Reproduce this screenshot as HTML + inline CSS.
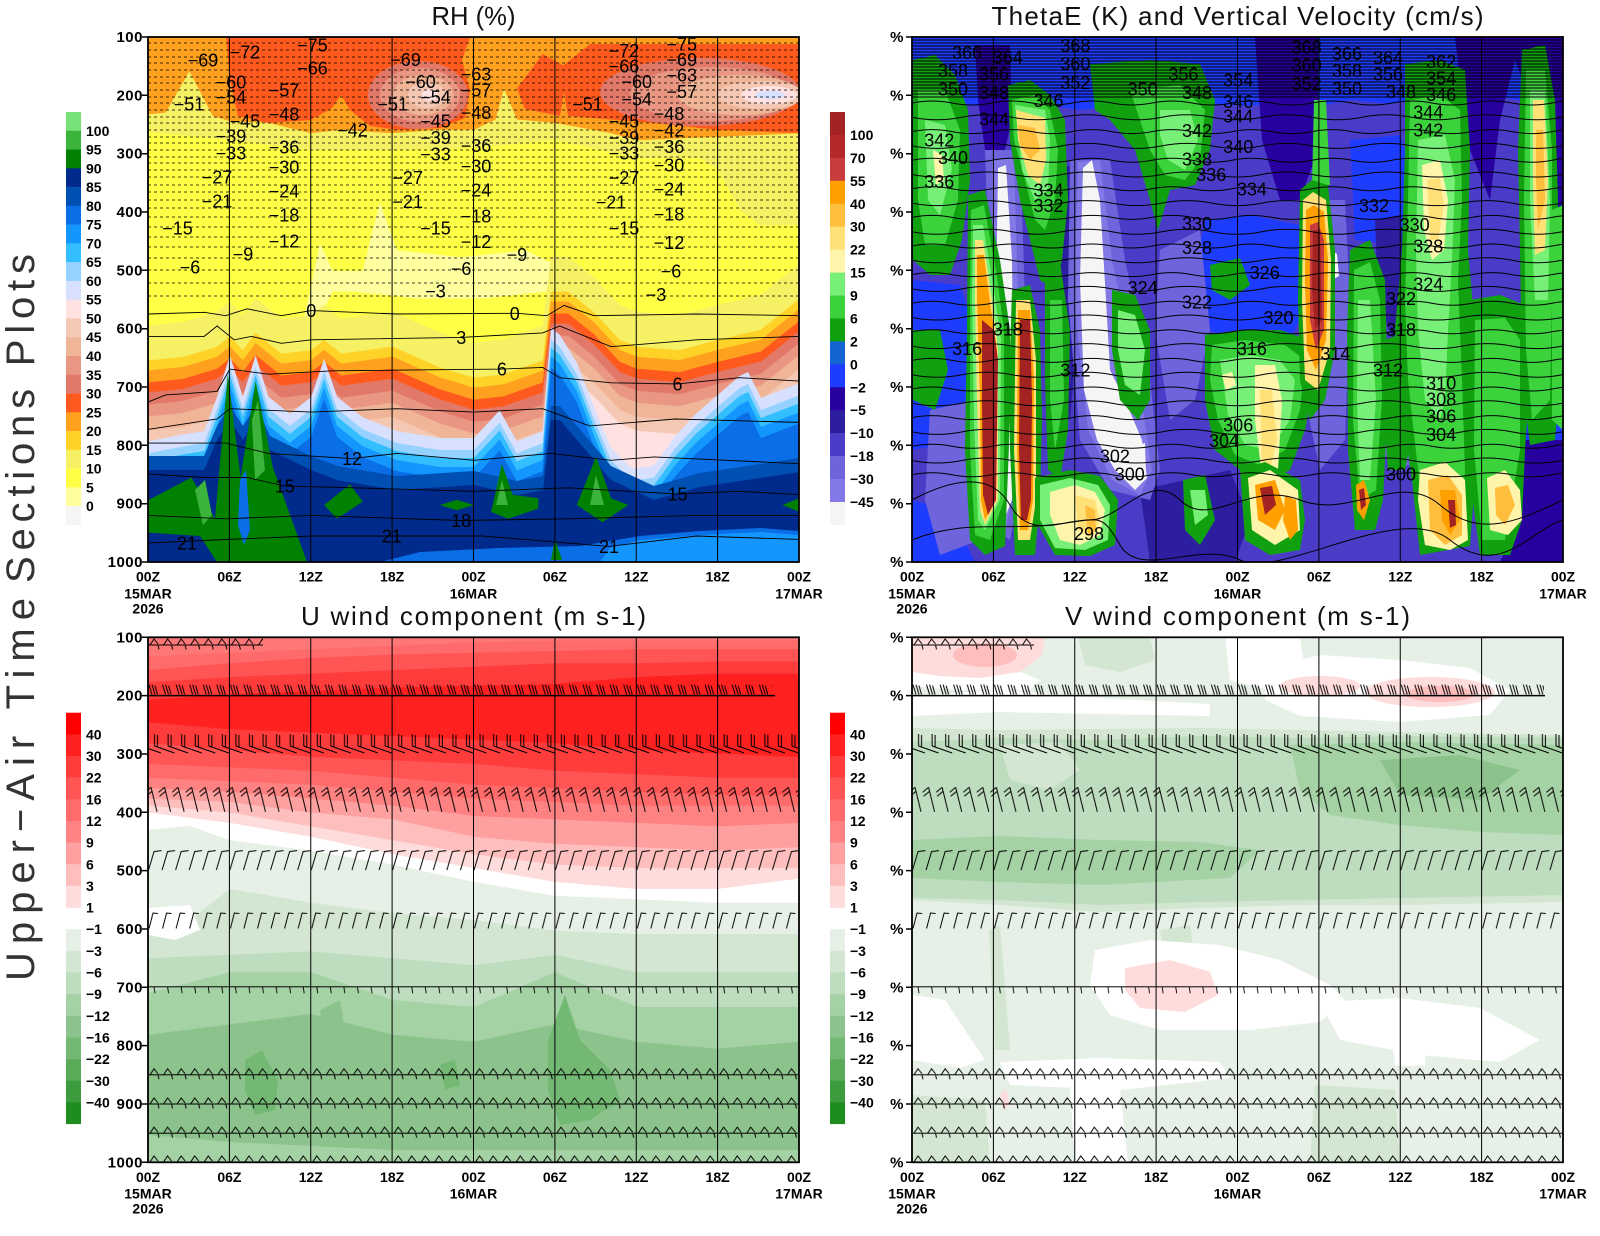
<!DOCTYPE html>
<html><head><meta charset="utf-8">
<style>
html,body{margin:0;padding:0;background:#fff;}
svg{display:block;}
text{font-family:"Liberation Sans",sans-serif;}
.ax{font-weight:bold;font-size:15px;}
.tx{font-weight:bold;font-size:14px;text-anchor:middle;}
.cb{font-weight:bold;font-size:14px;}
.cl{font-size:18px;text-anchor:middle;}
.tt{font-size:26px;}
</style></head><body>
<svg width="1600" height="1236" viewBox="0 0 1600 1236" xmlns="http://www.w3.org/2000/svg">
<defs>
<clipPath id="cA"><rect x="148" y="37" width="651" height="525"/></clipPath>
<clipPath id="cB"><rect x="912" y="37" width="651" height="525"/></clipPath>
<clipPath id="cC"><rect x="148" y="637" width="651" height="526"/></clipPath>
<clipPath id="cD"><rect x="912" y="637" width="651" height="526"/></clipPath>
<path id="mM" d="M148,360.5 L182.8,357 L217.1,346.7 L229.9,336.4 L242.8,350.1 L255.6,332.9 L281.3,353.6 L311.3,350.1 L324.2,339.8 L341.3,353.6 L392.7,346.7 L439.8,367.4 L474,377.7 L504,374.2 L542.6,360.5 L551.1,291.6 L568.3,291.6 L594,312.3 L619.7,339.8 L636.8,346.7 L679.6,350.1 L718.2,339.8 L761,329.5 L800,298.5 L800,700 L147,700 Z"/>
<path id="mB" d="M148,453.4 L182.8,446.5 L204.2,443.1 L217.1,408.7 L229.9,367.4 L242.8,408.7 L255.6,367.4 L268.5,408.7 L289.9,425.9 L311.3,408.7 L324.2,370.8 L337,408.7 L362.7,429.3 L397,443.1 L439.8,450 L474,450 L499.7,422.4 L516.9,453.4 L542.6,443.1 L551.1,339.8 L559.7,346.7 L576.8,374.2 L594,419 L611.1,460.3 L632.5,481 L653.9,477.5 L675.3,448 L696.7,425 L739.6,388 L748.1,384 L761,410 L800,395 L800,700 L147,700 Z"/>
<path id="mN" d="M148,470 L204,470 L217,440 L230,420 L243,440 L256,420 L270,450 L311,470 L337,480 L397,490 L474,485 L517,495 L543,490 L551,420 L560,420 L577,440 L611,480 L654,500 L700,487 L760,478 L800,472 L800,700 L147,700 Z"/>
<path id="wv1" fill="none" stroke="#000" stroke-width="1" d="M0,0 q20,-4 40,0 t40,0 t40,0 t40,0 t40,0 t40,0 t40,0 t40,0 t40,0 t40,0 t40,0 t40,0 t40,0 t40,0 t40,0 t40,0 t40,0"/>
<path id="wv2" fill="none" stroke="#000" stroke-width="1" d="M0,0 q25,5 50,0 t50,0 t50,0 t50,0 t50,0 t50,0 t50,0 t50,0 t50,0 t50,0 t50,0 t50,0 t50,0 t50,0"/>
<pattern id="p200" patternUnits="userSpaceOnUse" x="0" y="-12" width="13.5625" height="12"><path d="M1,1L4,11M4,1L7,11M7,2L9.5,11" stroke="#000" stroke-width="1" fill="none"/></pattern>
<pattern id="p300" patternUnits="userSpaceOnUse" x="0" y="-24" width="13.5625" height="24"><path d="M13,23L-7,16M-7,16L-7,4M-4,17L-4,5M26.56,23L6.56,16M6.56,16L6.56,4M9.56,17L9.56,5" stroke="#000" stroke-width="1" fill="none"/></pattern>
<pattern id="p400" patternUnits="userSpaceOnUse" x="0" y="-28" width="13.5625" height="28"><path d="M9,27.5L3,3M3,3L-3,8M4,7L-2,12M22.56,27.5L16.56,3M16.56,3L10.56,8M17.56,7L11.56,12" stroke="#000" stroke-width="1" fill="none"/></pattern>
<pattern id="p500" patternUnits="userSpaceOnUse" x="0" y="-21" width="13.5625" height="21"><path d="M0.5,20.5L6,2L13.5,1" stroke="#000" stroke-width="1" fill="none"/></pattern>
<pattern id="p600" patternUnits="userSpaceOnUse" x="0" y="-19" width="13.5625" height="19"><path d="M1,18.5L5,3L10,3.5" stroke="#000" stroke-width="1" fill="none"/></pattern>
<pattern id="p700" patternUnits="userSpaceOnUse" x="0" y="-4" width="13.5625" height="12"><path d="M0,3.5H13.6M6,3.5L7,10" stroke="#000" stroke-width="0.9" fill="none"/></pattern>
<pattern id="pz" patternUnits="userSpaceOnUse" x="0" y="-8" width="13.5625" height="13"><path d="M0,8H13.6M2,8L6,2L10,7M10,8L11,12.5" stroke="#000" stroke-width="1" fill="none"/></pattern>
</defs>
<rect width="1600" height="1236" fill="#fff"/>

<!-- ================= PANEL A : RH ================= -->
<g clip-path="url(#cA)">
<rect x="148" y="37" width="651" height="525" fill="#FFFF46"/>
<path d="M148,37 H799 V225 L760,225 L740,210 L718,170 L700,158 L637,158 L555,140 L474,148 L392,150 L311,150 L230,140 L148,132 Z" fill="#F5F064"/>
<path d="M148,37 L800,37 L800,133.3 L718.2,136.7 L636.8,140.2 L611.1,133.3 L555.4,122.9 L516.9,119.5 L504,88.5 L495.5,119.5 L474,129.8 L439.8,129.8 L392.7,133.3 L341.3,129.8 L311.3,133.3 L268.5,122.9 L229.9,121.2 L212.8,116 L189.3,71.3 L165.7,112.6 L148,114.3 Z" fill="#FFA01E"/>
<path d="M226,37 L470,37 L462,60 L470,90 L465,118 L440,128 L400,130 L370,126 L350,110 L341,95 L332,108 L311,120 L268,123 L238,116 L230,80 Z" fill="#FF5A1E"/>
<path d="M517,88.5 L542.6,54 L568,68 L560,116 L525,109 Z" fill="#FF5A1E"/>
<path d="M560,68 L590,44 L800,44 L800,133 L718,130 L654,123 L611,119.5 L568,116 Z" fill="#FF5A1E"/>
<ellipse cx="418" cy="95" rx="50" ry="34" fill="#E17868"/>
<ellipse cx="420" cy="95" rx="40" ry="27" fill="#E99682"/>
<ellipse cx="423" cy="95" rx="30" ry="20" fill="#F0B496"/>
<ellipse cx="427" cy="95" rx="19" ry="13" fill="#F5C8B4"/>
<ellipse cx="430" cy="95" rx="8" ry="6" fill="#FFE1E1"/>
<ellipse cx="700" cy="92" rx="100" ry="34" fill="#E17868"/>
<ellipse cx="712" cy="94" rx="82" ry="27" fill="#E99682"/>
<ellipse cx="740" cy="95" rx="62" ry="20" fill="#F0B496"/>
<ellipse cx="761" cy="95" rx="44" ry="14" fill="#F5C8B4"/>
<ellipse cx="769" cy="95" rx="28" ry="9" fill="#FFE1E1"/>
<ellipse cx="770" cy="95" rx="15" ry="4" fill="#D7E1FF"/>
<path d="M302.7,326 L319.9,243.4 L332.7,271 L362.7,271 L379.8,202.1 L397,250.3 L461.2,257.2 L525.4,250.3 L568.3,271 L594,291.6 L546.9,291.6 L482.6,298.5 L418.4,298.5 L354.1,291.6 L332.7,291.6 L315.6,326 Z" fill="#FFFFA0"/>
<use href="#mM" fill="#F5F064" transform="translate(0,-35)"/>
<use href="#mM" fill="#FFD228"/>
<use href="#mM" fill="#FFA01E" transform="translate(0,10)"/>
<use href="#mM" fill="#FF5A1E" transform="translate(0,22)"/>
<use href="#mM" fill="#E17868" transform="translate(0,32)"/>
<use href="#mM" fill="#E99682" transform="translate(0,44)"/>
<use href="#mM" fill="#F0B496" transform="translate(0,56)"/>
<use href="#mM" fill="#F5C8B4" transform="translate(0,70)"/>
<use href="#mM" fill="#FFE1E1" transform="translate(0,84)"/>
<use href="#mB" fill="#D7E1FF" transform="translate(0,-12)"/>
<use href="#mB" fill="#96D2FF"/>
<use href="#mB" fill="#32BEFF" transform="translate(0,8)"/>
<use href="#mB" fill="#1496FF" transform="translate(0,17)"/>
<use href="#mB" fill="#0A6EE6" transform="translate(0,28)"/>
<use href="#mN" fill="#0050B4" transform="translate(0,-14)"/>
<use href="#mN" fill="#002A8C"/>
<path d="M380,562 L420,552 L500,548 L580,546 L640,536 L700,531 L760,528 L799,531 L799,562 Z" fill="#0A6EE6"/>
<path d="M600,562 L610,548 L640,540 L700,535 L760,532 L799,535 L799,562 Z" fill="#1496FF"/>
<path d="M148.6,500 L191.4,477.5 L215,518.8 L227.8,374.2 L240.6,477.5 L255.6,381.1 L272.8,467.2 L307,562 L217,562 L200,536 L148,532.6 Z" fill="#008200"/>
<path d="M195,490 L205,480 L212,515 L203,525 Z" fill="#3CB43C"/>
<path d="M252,420 L258,400 L265,470 L255,480 Z" fill="#3CB43C"/>
<path d="M240,480 L246,470 L250,530 L244,545 L238,525 Z" fill="#0A6EE6"/>
<path d="M324.2,505 L349.9,484.4 L362.7,501.6 L337,518.8 Z" fill="#008200"/>
<path d="M439.8,505 L456.9,499.9 L474,505 L456.9,510.2 Z" fill="#008200"/>
<path d="M491.2,511.9 L501.9,463.7 L512.6,494.7 L538.3,498.2 L538.3,508.5 L508.3,518.8 Z" fill="#008200"/>
<path d="M496,505 L502,480 L508,505 Z" fill="#3CB43C"/>
<path d="M576.8,505 L596.1,456.8 L611.1,498.2 L628.2,505 L602.5,522.3 Z" fill="#008200"/>
<path d="M590,505 L596,475 L604,505 Z" fill="#3CB43C"/>
<path d="M782.4,505 L799.5,498.2 L799.5,511.9 Z" fill="#008200"/>
<path d="M551,560 L555,539 L562,560 Z" fill="#008200"/>
<path fill="none" stroke="#000" stroke-width="0.7" stroke-dasharray="3 3" d="M148,43H799M148,50H799M148,57H799M148,63H799M148,70H799M148,77H799M148,83H799M148,90H799M148,97H799M148,103H799M148,110H799M148,117H799M148,123H799M148,130H799M148,137H799M148,143H799M148,150H799M148,157H799M148,163H799M148,170H799M148,177H799M148,185H799M148,192H799M148,200H799M148,208H799M148,217H799M148,227H799M148,237H799M148,247H799M148,258H799M148,270H799M148,283H799M148,296H799"/>
<g fill="none" stroke="#000" stroke-width="0.9">
<polyline points="148.6,314 204.2,312.3 225.7,315.7 247.1,308.8 281.3,315.7 311.3,310.6 397,314 516.9,313.3 546.9,315.7 564,305.4 594,315.7 696.7,314 799.5,315.7"/>
<polyline points="148.6,336.4 204.2,336.4 217.1,326 234.2,339.8 251.3,336.4 281.3,343.3 311.3,339.8 461.2,337.4 542.6,332.9 559.7,326 611.1,346.7 696.7,339.8 799.5,336.4"/>
<polyline points="148.6,401.8 165.7,394.9 217.1,391.4 229.9,369.1 268.5,374.2 332.7,370.8 501.9,369.1 542.6,367.4 559.7,377.7 611.1,382.8 677.5,383.9 739.6,377.7 799.5,381.1"/>
<polyline points="148.6,429.3 217.1,419 229.9,408.7 311.3,412.1 397,408.7 474,412.1 542.6,408.7 589.7,425.9 675.3,419 799.5,422.4"/>
<polyline points="148.6,443.1 225.7,443.1 268.5,453.4 352,458.6 397,453.4 474,460.3 551.1,453.4 611.1,460.3 653.9,456.9 799.5,463.7"/>
<polyline points="148.6,474.1 204.2,477.5 247.1,477.5 284.8,486.1 354.1,487.8 474,491.3 568.3,487.8 677.5,494 739.6,491.3 799.5,494.7"/>
<polyline points="148.6,515.4 225.7,518.8 311.3,515.4 461.2,520.5 568.3,518.8 696.7,515.4 799.5,515.4"/>
<polyline points="148.6,542.9 225.7,539.5 311.3,536 391.8,536 482.6,536 609,546.4 696.7,536 799.5,539.5"/>
</g>
<g class="cl">
<text x="203" y="66.5">−69</text><text x="245" y="58.5">−72</text><text x="312.5" y="51.5">−75</text><text x="312.5" y="74.5">−66</text>
<text x="231" y="88.5">−60</text><text x="231" y="103.5">−54</text><text x="189" y="110.5">−51</text><text x="284" y="96.5">−57</text>
<text x="284" y="120.5">−48</text><text x="245" y="127.5">−45</text><text x="352.5" y="136.5">−42</text><text x="231" y="142.5">−39</text>
<text x="284" y="153.5">−36</text><text x="231" y="159.5">−33</text><text x="284" y="173.5">−30</text><text x="217" y="183.5">−27</text>
<text x="284" y="197.5">−24</text><text x="217" y="207.5">−21</text><text x="284" y="221.5">−18</text><text x="177.5" y="234.5">−15</text>
<text x="284" y="247.5">−12</text><text x="243" y="260.5">−9</text><text x="190" y="273.5">−6</text>
<text x="405.5" y="65.8">−69</text><text x="420.5" y="88.1">−60</text><text x="435.5" y="103.5">−54</text><text x="392.7" y="110.5">−51</text>
<text x="476" y="80.5">−63</text><text x="476" y="96.5">−57</text><text x="476" y="119.1">−48</text><text x="435.5" y="127.5">−45</text>
<text x="435.5" y="143.9">−39</text><text x="476" y="151.8">−36</text><text x="435.5" y="160.5">−33</text><text x="476" y="172.5">−30</text>
<text x="407.7" y="183.8">−27</text><text x="476" y="196.5">−24</text><text x="407.7" y="207.9">−21</text><text x="476" y="222.5">−18</text>
<text x="435.5" y="234.5">−15</text><text x="476" y="248.2">−12</text><text x="516.9" y="260.9">−9</text><text x="461.2" y="275.1">−6</text>
<text x="435.5" y="297.5">−3</text><text x="311.3" y="317.1">0</text><text x="514.7" y="319.8">0</text><text x="461.2" y="343.9">3</text>
<text x="501.9" y="375.5">6</text><text x="352" y="465.1">12</text><text x="284.8" y="492.5">15</text><text x="461.2" y="527">18</text>
<text x="187" y="549.5">21</text><text x="391.8" y="542.5">21</text><text x="609" y="552.9">21</text><text x="677.5" y="500.5">15</text>
<text x="677.5" y="390.4">6</text><text x="656" y="300.9">−3</text><text x="671" y="277.5">−6</text><text x="669" y="249.2">−12</text>
<text x="624" y="234.5">−15</text><text x="669" y="220.5">−18</text><text x="611" y="208.5">−21</text><text x="669" y="195.5">−24</text>
<text x="624" y="183.8">−27</text><text x="669" y="171.5">−30</text><text x="624" y="159.5">−33</text><text x="669" y="152.9">−36</text>
<text x="624" y="143.9">−39</text><text x="669" y="136.5">−42</text><text x="624" y="127.5">−45</text><text x="669" y="119.8">−48</text>
<text x="587.5" y="110.5">−51</text><text x="636.8" y="105.3">−54</text><text x="681.8" y="97.8">−57</text><text x="636.8" y="88.1">−60</text>
<text x="681.8" y="81.3">−63</text><text x="624" y="72.5">−66</text><text x="681.8" y="65.8">−69</text><text x="624" y="57.2">−72</text>
<text x="681.8" y="50.3">−75</text>
</g>
</g>

<!-- ================= PANEL B : ThetaE ================= -->
<g clip-path="url(#cB)">
<rect x="912" y="37" width="651" height="525" fill="#4B3CC8"/>
<path d="M912,37 H1563 V95 L1520,100 L1490,96 L1455,102 L1420,98 L1390,104 L1350,100 L1320,106 L1290,100 L1250,106 L1200,104 L1160,110 L1120,106 L1080,110 L1040,104 L1000,108 L960,104 L912,110 Z" fill="#1E3CFF"/>
<path d="M912,280 L960,285 L975,330 L965,440 L912,450 Z" fill="#1E3CFF"/>
<path d="M1205,220 L1250,215 L1300,225 L1310,300 L1290,340 L1240,345 L1210,330 L1195,270 Z" fill="#1E3CFF"/>
<path d="M1380,370 L1450,365 L1563,380 L1563,460 L1470,455 L1400,450 L1375,420 Z" fill="#1E3CFF"/>
<path d="M1350,140 L1400,135 L1420,200 L1400,245 L1355,240 Z" fill="#1E3CFF"/>
<path d="M912,500 L950,510 L975,562 L912,562 Z" fill="#1E3CFF"/>
<path d="M975,45 L1010,45 L1012,120 L1000,170 L985,150 L978,100 Z" fill="#2800A0"/>
<path d="M1255,37 L1318,37 L1318,150 L1300,200 L1280,200 L1262,140 Z" fill="#2800A0"/>
<path d="M1455,37 L1563,37 L1563,300 L1545,260 L1530,100 L1515,60 L1500,120 L1490,200 L1470,150 L1460,80 Z" fill="#2800A0"/>
<path d="M1490,440 L1563,440 L1563,562 L1500,562 L1520,520 Z" fill="#2800A0"/>
<path d="M1140,490 L1230,470 L1250,520 L1235,562 L1150,562 Z" fill="#2D1EA0"/>
<path d="M1375,220 L1400,215 L1410,300 L1395,345 L1378,300 Z" fill="#2D1EA0"/>
<path d="M1050,170 L1075,165 L1080,300 L1070,420 L1052,400 Z" fill="#2D1EA0"/>
<path d="M930,410 L975,400 L980,540 L940,555 L925,500 Z" fill="#6E64DC"/>
<path d="M1160,250 L1200,230 L1210,330 L1195,400 L1170,420 L1155,330 Z" fill="#6E64DC"/>
<path d="M1315,200 L1345,200 L1350,300 L1345,440 L1320,470 L1305,400 Z" fill="#6E64DC"/>
<path d="M1380,380 L1420,380 L1425,460 L1395,470 L1375,440 Z" fill="#6E64DC"/>
<path d="M985,150 L1020,150 L1025,300 L1022,480 L1010,540 L995,530 L990,300 Z" fill="#6E64DC"/>
<path d="M1070,160 L1110,160 L1125,260 L1150,380 L1160,470 L1150,500 L1110,490 L1080,440 L1068,300 Z" fill="#6E64DC"/>
<path d="M992,160 L1014,158 L1018,300 L1016,470 L1006,530 L996,520 L993,300 Z" fill="#8278E6"/>
<path d="M1078,162 L1100,160 L1112,260 L1140,390 L1152,470 L1140,495 L1112,480 L1088,430 L1074,300 Z" fill="#8278E6"/>
<path d="M998,168 L1006,165 L1012,260 L1014,420 L1012,500 L1004,520 L998,430 L996,300 Z" fill="#F5F5F5"/>
<path d="M1083,168 L1092,160 L1100,200 L1106,300 L1110,370 L1125,400 L1142,440 L1147,478 L1135,490 L1115,470 L1097,440 L1084,390 L1080,280 Z" fill="#F5F5F5"/>
<path d="M1331,250 L1337,254 L1339,276 L1332,280 Z" fill="#F5F5F5"/>
<path d="M1139,445 L1145,443 L1146,475 L1140,476 Z" fill="#F5F5F5"/>
<path d="M913,60 L935,55 L955,75 L968,110 L970,180 L962,240 L950,275 L930,275 L913,260 Z" fill="#10A010"/>
<path d="M918,90 L945,90 L960,130 L958,200 L945,245 L925,245 L918,200 Z" fill="#3CD23C"/>
<path d="M925,120 L945,125 L952,170 L940,215 L928,200 Z" fill="#78F078"/>
<path d="M933,150 L942,155 L944,180 L936,185 Z" fill="#FFF5AA"/>
<path d="M913,330 L940,330 L948,370 L935,410 L913,400 Z" fill="#10A010"/>
<path d="M968,195 L985,190 L1000,260 L1010,330 L1010,420 L1005,546 L985,555 L970,540 L965,450 L967,330 Z" fill="#10A010"/>
<path d="M971,210 L984,205 L996,270 L1004,330 L1004,500 L990,540 L975,535 L970,450 L970,300 Z" fill="#3CD23C"/>
<path d="M973,225 L983,225 L994,290 L1001,340 L1000,500 L985,530 L978,520 L974,420 L972,300 Z" fill="#78F078"/>
<path d="M975,240 L983,240 L992,300 L998,350 L998,500 L985,525 L980,510 L977,400 L975,300 Z" fill="#FFE178"/>
<path d="M977,255 L984,255 L991,310 L997,350 L996,500 L985,520 L981,500 L980,400 L977,300 Z" fill="#FFA000"/>
<path d="M982,320 L994,330 L998,360 L996,500 L988,515 L983,495 L982,400 Z" fill="#A32222"/>
<path d="M1008,85 L1030,80 L1050,95 L1065,120 L1068,200 L1062,260 L1055,290 L1040,280 L1030,240 L1020,200 L1010,140 Z" fill="#10A010"/>
<path d="M1012,100 L1035,95 L1050,110 L1058,150 L1055,200 L1045,230 L1035,220 L1025,180 L1014,140 Z" fill="#3CD23C"/>
<path d="M1015,105 L1045,110 L1050,140 L1048,190 L1035,200 L1022,170 Z" fill="#78F078"/>
<path d="M1016,110 L1045,118 L1046,160 L1040,185 L1028,175 L1018,140 Z" fill="#FFE178"/>
<path d="M1018,125 L1035,128 L1040,150 L1030,160 L1020,145 Z" fill="#FFBE3C"/>
<path d="M1012,290 L1030,285 L1040,330 L1042,420 L1040,500 L1035,555 L1015,555 L1010,450 L1010,350 Z" fill="#10A010"/>
<path d="M1016,300 L1030,300 L1036,360 L1036,500 L1030,540 L1018,540 L1014,450 Z" fill="#FFE178"/>
<path d="M1018,310 L1030,310 L1034,380 L1033,500 L1028,530 L1020,530 L1017,450 Z" fill="#FFA000"/>
<path d="M1020,320 L1030,320 L1032,400 L1031,500 L1027,520 L1021,520 L1019,450 Z" fill="#A32222"/>
<path d="M1045,270 L1060,262 L1070,330 L1068,430 L1060,480 L1048,470 L1045,380 Z" fill="#10A010"/>
<path d="M1050,300 L1062,300 L1064,400 L1055,450 L1050,400 Z" fill="#3CD23C"/>
<path d="M1035,478 L1070,470 L1100,476 L1118,500 L1115,545 L1090,556 L1055,555 L1035,520 Z" fill="#10A010"/>
<path d="M1040,485 L1070,478 L1098,485 L1110,505 L1108,540 L1085,550 L1055,548 L1040,520 Z" fill="#78F078"/>
<path d="M1050,492 L1075,485 L1095,492 L1105,510 L1100,535 L1080,545 L1060,540 L1050,515 Z" fill="#FFF5AA"/>
<path d="M1075,495 L1095,500 L1100,520 L1092,538 L1078,530 Z" fill="#FFE178"/>
<path d="M1085,505 L1095,510 L1096,530 L1088,535 Z" fill="#FFBE3C"/>
<path d="M1112,290 L1135,295 L1150,330 L1150,400 L1138,420 L1120,400 L1112,350 Z" fill="#10A010"/>
<path d="M1118,310 L1135,315 L1145,350 L1140,395 L1125,385 L1118,350 Z" fill="#78F078"/>
<path d="M1090,64 L1150,60 L1200,64 L1215,100 L1210,150 L1195,185 L1170,190 L1158,230 L1150,200 L1135,150 L1110,120 L1095,110 Z" fill="#10A010"/>
<path d="M1130,90 L1180,85 L1205,110 L1200,160 L1185,180 L1165,175 L1150,150 L1140,120 Z" fill="#3CD23C"/>
<path d="M1160,110 L1190,110 L1198,140 L1185,170 L1168,160 L1160,135 Z" fill="#78F078"/>
<path d="M1210,265 L1240,258 L1250,285 L1230,300 L1212,290 Z" fill="#10A010"/>
<path d="M1205,335 L1240,330 L1280,330 L1310,340 L1315,380 L1305,430 L1290,470 L1270,480 L1240,470 L1215,450 L1205,400 Z" fill="#10A010"/>
<path d="M1212,345 L1245,340 L1285,345 L1305,360 L1300,410 L1285,450 L1260,465 L1235,455 L1218,420 L1210,380 Z" fill="#3CD23C"/>
<path d="M1220,360 L1250,355 L1280,360 L1295,380 L1290,420 L1270,450 L1245,445 L1228,415 Z" fill="#78F078"/>
<path d="M1255,365 L1275,365 L1282,400 L1278,470 L1262,475 L1255,420 Z" fill="#FFF5AA"/>
<path d="M1260,390 L1272,390 L1277,440 L1270,470 L1262,470 Z" fill="#FFE178"/>
<path d="M1222,375 L1232,372 L1236,385 L1226,390 Z" fill="#FFF5AA"/>
<path d="M1240,470 L1265,462 L1300,480 L1305,520 L1300,550 L1270,555 L1245,540 Z" fill="#10A010"/>
<path d="M1248,478 L1270,470 L1298,490 L1300,530 L1275,545 L1252,530 Z" fill="#FFF5AA"/>
<path d="M1255,485 L1275,480 L1285,510 L1275,530 L1258,520 Z" fill="#FFA000"/>
<path d="M1260,488 L1272,486 L1276,505 L1265,515 Z" fill="#A32222"/>
<path d="M1285,495 L1296,500 L1298,530 L1290,540 L1283,520 Z" fill="#FFA000"/>
<path d="M1183,480 L1205,475 L1215,520 L1200,545 L1185,530 Z" fill="#10A010"/>
<path d="M1190,490 L1205,490 L1208,515 L1195,525 Z" fill="#78F078"/>
<path d="M1314,100 L1326,100 L1330,185 L1312,185 Z" fill="#3CD23C"/>
<path d="M1300,190 L1312,180 L1328,185 L1335,250 L1335,350 L1325,400 L1310,420 L1300,380 L1298,300 Z" fill="#10A010"/>
<path d="M1303,200 L1313,192 L1326,200 L1331,260 L1330,350 L1318,390 L1305,380 L1302,300 Z" fill="#FFE178"/>
<path d="M1306,210 L1314,205 L1324,212 L1328,260 L1326,340 L1316,370 L1307,350 L1305,280 Z" fill="#FFA000"/>
<path d="M1310,225 L1318,222 L1324,240 L1324,330 L1316,350 L1310,320 Z" fill="#C83C3C"/>
<path d="M1313,230 L1320,230 L1322,320 L1315,330 L1312,290 Z" fill="#A32222"/>
<path d="M1350,250 L1370,240 L1385,280 L1388,400 L1383,500 L1375,530 L1355,530 L1348,450 L1347,330 Z" fill="#10A010"/>
<path d="M1354,270 L1370,262 L1380,300 L1382,400 L1376,490 L1360,500 L1353,420 Z" fill="#3CD23C"/>
<path d="M1358,300 L1370,300 L1376,400 L1370,480 L1360,480 L1357,400 Z" fill="#78F078"/>
<path d="M1356,485 L1364,480 L1370,500 L1364,520 L1357,510 Z" fill="#FFA000"/>
<path d="M1359,490 L1364,488 L1366,505 L1361,510 Z" fill="#A32222"/>
<path d="M1385,340 L1410,330 L1415,420 L1405,470 L1388,470 L1383,400 Z" fill="#10A010"/>
<path d="M1405,64 L1440,60 L1465,70 L1470,150 L1468,250 L1475,330 L1470,430 L1475,480 L1470,546 L1420,555 L1412,480 L1400,400 L1395,330 L1402,250 L1405,150 Z" fill="#10A010"/>
<path d="M1410,100 L1440,95 L1460,110 L1462,200 L1458,280 L1462,380 L1465,470 L1460,540 L1425,545 L1418,470 L1408,380 L1405,300 L1408,200 Z" fill="#3CD23C"/>
<path d="M1418,140 L1445,135 L1455,180 L1452,260 L1448,330 L1445,400 L1440,420 L1425,400 L1418,330 L1416,250 Z" fill="#78F078"/>
<path d="M1422,165 L1440,160 L1448,200 L1444,250 L1432,260 L1424,230 Z" fill="#FFF5AA"/>
<path d="M1427,180 L1440,178 L1444,205 L1438,240 L1430,240 Z" fill="#FFE178"/>
<path d="M1420,470 L1445,462 L1465,480 L1468,540 L1450,550 L1425,545 L1418,500 Z" fill="#FFF5AA"/>
<path d="M1428,480 L1448,475 L1462,495 L1462,535 L1445,545 L1430,530 Z" fill="#FFBE3C"/>
<path d="M1440,490 L1455,490 L1460,520 L1450,535 L1442,520 Z" fill="#FFA000"/>
<path d="M1448,500 L1455,500 L1456,525 L1450,528 Z" fill="#A32222"/>
<path d="M1470,300 L1500,295 L1525,305 L1530,380 L1525,450 L1522,520 L1510,555 L1480,555 L1470,480 L1468,380 Z" fill="#10A010"/>
<path d="M1475,320 L1505,318 L1520,340 L1520,450 L1505,540 L1482,540 L1474,450 Z" fill="#3CD23C"/>
<path d="M1487,478 L1505,470 L1520,490 L1522,520 L1508,535 L1490,530 Z" fill="#FFF5AA"/>
<path d="M1495,488 L1508,485 L1515,505 L1505,525 L1496,515 Z" fill="#FFBE3C"/>
<path d="M1522,50 L1545,45 L1555,100 L1558,200 L1556,300 L1560,380 L1555,440 L1530,445 L1522,380 L1520,250 L1518,150 Z" fill="#10A010"/>
<path d="M1526,70 L1545,70 L1552,150 L1552,300 L1550,400 L1532,420 L1526,350 L1524,200 Z" fill="#3CD23C"/>
<path d="M1530,90 L1545,90 L1550,200 L1548,300 L1535,300 L1530,200 Z" fill="#78F078"/>
<path d="M1533,100 L1544,100 L1548,180 L1545,250 L1535,255 L1533,180 Z" fill="#FFE178"/>
<path d="M1536,130 L1543,130 L1545,200 L1538,230 L1536,180 Z" fill="#FFBE3C"/>
<path d="M1552,210 L1563,205 L1563,430 L1552,420 Z" fill="#3CD23C"/>
<path fill="none" stroke="#000" stroke-width="1" d="M912,40H1563M912,43H1563M912,46H1563M912,49H1563M912,52H1563M912,55H1563M912,58H1563M912,61H1563M912,64H1563M912,67H1563M912,70H1563M912,73H1563M912,76H1563M912,79H1563M912,82H1563M912,85H1563M912,88H1563M912,91H1563M912,94H1563M912,97H1563"/>
<use href="#wv1" transform="translate(912,103)"/><use href="#wv2" transform="translate(912,117.3)"/>
<use href="#wv1" transform="translate(912,131.6)"/><use href="#wv2" transform="translate(912,145.9)"/>
<use href="#wv1" transform="translate(912,160.2)"/><use href="#wv2" transform="translate(912,174.5)"/>
<use href="#wv1" transform="translate(912,188.8)"/><use href="#wv2" transform="translate(912,203.1)"/>
<use href="#wv1" transform="translate(912,217.4)"/><use href="#wv2" transform="translate(912,231.7)"/>
<use href="#wv1" transform="translate(912,246)"/><use href="#wv2" transform="translate(912,260.3)"/>
<use href="#wv1" transform="translate(912,274.6)"/><use href="#wv2" transform="translate(912,288.9)"/>
<use href="#wv1" transform="translate(912,303.2)"/><use href="#wv2" transform="translate(912,317.5)"/>
<use href="#wv1" transform="translate(912,331.8)"/><use href="#wv2" transform="translate(912,346.1)"/>
<use href="#wv1" transform="translate(912,360.4)"/><use href="#wv2" transform="translate(912,374.7)"/>
<use href="#wv1" transform="translate(912,389)"/><use href="#wv2" transform="translate(912,403.3)"/>
<use href="#wv1" transform="translate(912,417.6)"/><use href="#wv2" transform="translate(912,431.9)"/>
<use href="#wv1" transform="translate(912,446.2)"/><use href="#wv2" transform="translate(912,460.5)"/>
<use href="#wv1" transform="translate(912,474.8)"/>
<path fill="none" stroke="#000" stroke-width="1" d="M912,500 C950,480 990,470 1010,505 S1060,520 1090,520 S1150,470 1180,500 S1250,480 1300,500 S1400,470 1440,505 S1520,520 1563,500"/>
<path fill="none" stroke="#000" stroke-width="1" d="M912,540 C960,520 1000,530 1050,525 S1100,510 1120,545 S1200,540 1240,560 S1400,500 1450,540 S1530,530 1563,520"/>
<g class="cl">
<text x="967.1" y="58.9">366</text><text x="1007.8" y="63.3">364</text><text x="1075.4" y="52">368</text><text x="953" y="77.1">358</text>
<text x="994" y="80.5">356</text><text x="1075.4" y="70.2">360</text><text x="953" y="95.7">350</text><text x="994" y="99.2">348</text>
<text x="1075.4" y="88.8">352</text><text x="1048.5" y="107.1">346</text><text x="1142.7" y="95.7">350</text><text x="1183.4" y="80.5">356</text>
<text x="1197" y="99.2">348</text><text x="1238.2" y="86.5">354</text><text x="1238.2" y="108.1">346</text><text x="1238.2" y="122.5">344</text>
<text x="994" y="125.3">344</text><text x="939.3" y="146.7">342</text><text x="953" y="163.9">340</text><text x="939.3" y="188">336</text>
<text x="1048.5" y="196.5">334</text><text x="1048.5" y="212.1">332</text><text x="1197" y="137">342</text><text x="1238.2" y="152.9">340</text>
<text x="1197" y="165.5">338</text><text x="1211.2" y="181.1">336</text><text x="1251.9" y="195.5">334</text><text x="1197" y="230">330</text>
<text x="1197" y="254.1">328</text><text x="1264.7" y="279.2">326</text><text x="1142.7" y="294">324</text><text x="1197" y="308.5">322</text>
<text x="1278.5" y="323.9">320</text><text x="1251.9" y="354.9">316</text><text x="1007.8" y="335.3">318</text><text x="967.1" y="354.9">316</text>
<text x="1075.4" y="376.5">312</text><text x="1238.2" y="431.7">306</text><text x="1224" y="446.8">304</text><text x="1114.9" y="462.7">302</text>
<text x="1129.8" y="480.5">300</text><text x="1089" y="539.8">298</text><text x="1306.7" y="53.7">368</text><text x="1306.7" y="71.6">360</text>
<text x="1306.7" y="89.9">352</text><text x="1347" y="59.9">366</text><text x="1347" y="77.1">358</text><text x="1347" y="95">350</text>
<text x="1388" y="64">364</text><text x="1388" y="80.5">356</text><text x="1401" y="97.8">348</text><text x="1441.2" y="68.2">362</text>
<text x="1441.2" y="84.7">354</text><text x="1441.2" y="101.2">346</text><text x="1428.3" y="118.5">344</text><text x="1428.3" y="136.3">342</text>
<text x="1374" y="212.1">332</text><text x="1414.6" y="231">330</text><text x="1428.3" y="252.7">328</text><text x="1428.3" y="290.5">324</text>
<text x="1401" y="305">322</text><text x="1401" y="336">318</text><text x="1335.4" y="360.1">314</text><text x="1388" y="376.5">312</text>
<text x="1441.2" y="389.3">310</text><text x="1441.2" y="405.5">308</text><text x="1441.2" y="422.7">306</text><text x="1441.2" y="441">304</text>
<text x="1401" y="480.5">300</text>
</g>
</g>

<!-- ================= PANEL C : U ================= -->
<g clip-path="url(#cC)">
<rect x="148" y="637" width="651" height="526" fill="#FF7878"/>
<path fill="#FF6A6A" d="M148,656.3 L230,652.8 L311,649.3 L393,645.8 L474,642.4 L555,640.6 L637,640.6 L718,640.6 L800,640.6 V1170 H147Z"/>
<path fill="#FF5555" d="M148,670.1 L230,663.2 L311,658 L393,654.5 L474,652.8 L555,651 L637,649.3 L718,649.3 L800,649.3 V1170 H147Z"/>
<path fill="#FF3C3C" d="M148,682.3 L230,677.1 L311,673.6 L393,670.1 L474,666.7 L555,663.2 L637,663.2 L718,661.5 L800,661.5 V1170 H147Z"/>
<path fill="#FF2020" d="M148,699.7 L230,694.4 L311,691 L393,687.5 L474,685.8 L555,684 L637,677.1 L718,673.6 L800,673.6 V1170 H147Z"/>
<path fill="#FF3C3C" d="M148,722.2 L230,729.2 L311,732.6 L393,736.1 L474,739.6 L555,743.1 L637,750 L718,753.5 L800,756.9 V1170 H147Z"/>
<path fill="#FF5555" d="M148,743.1 L230,750 L311,756.9 L393,760.4 L474,763.9 L555,770.8 L637,774.3 L718,777.8 L800,777.8 V1170 H147Z"/>
<path fill="#FF6A6A" d="M148,763.9 L230,767.4 L311,770.8 L393,777.8 L474,784.7 L555,788.2 L637,791.7 L718,795.1 L800,795.1 V1170 H147Z"/>
<path fill="#FF8282" d="M148,777.8 L230,781.3 L311,784.7 L393,791.7 L474,798.6 L555,802.1 L637,805.6 L718,805.6 L800,805.6 V1170 H147Z"/>
<path fill="#FFA0A0" d="M148,788.2 L230,791.7 L311,798.6 L393,805.6 L474,816 L555,819.4 L637,822.9 L718,826.4 L800,822.9 V1170 H147Z"/>
<path fill="#FFBEBE" d="M148,798.6 L230,802.1 L311,812.5 L393,819.4 L474,836.8 L555,843.8 L637,847.2 L718,850.7 L800,847.2 V1170 H147Z"/>
<path fill="#FFDCDC" d="M148,805.6 L230,812.5 L311,826.4 L393,840.3 L474,854.2 L555,864.6 L637,868.1 L718,868.1 L800,868.1 V1170 H147Z"/>
<path fill="#FFFFFF" d="M148,812.5 L230,822.9 L311,836.8 L393,854.2 L474,868.1 L555,881.9 L637,888.9 L718,888.9 L800,878.5 V1170 H147Z"/>
<path fill="#E6F0E6" d="M148,829.9 L190,826 L230,840.3 L311,850.7 L393,864.6 L474,881.9 L555,895.8 L637,899.3 L718,902.8 L800,902.8 V1170 H147Z"/>
<path fill="#D2E6D2" d="M148,930.6 L190,920 L230,888.9 L311,902.8 L393,913.2 L474,920.1 L555,930.6 L637,934 L718,934 L800,934 V1170 H147Z"/>
<path d="M148,908 L190,905 L200,930 L175,940 L148,935 Z" fill="#FFFFFF"/>
<path fill="#BEDCBE" d="M148,958.3 L230,954.9 L311,951.4 L393,958.3 L474,965.3 L555,954.9 L637,972.2 L718,972.2 L800,972.2 V1170 H147Z"/>
<path fill="#A5D2A5" d="M148,993 L230,972.2 L311,972.2 L393,1000 L474,1007 L555,972.2 L637,1007 L718,1007 L800,1007 V1170 H147Z"/>
<path fill="#8CC38C" d="M148,1034.7 L230,1024.3 L311,1013.9 L393,1034.7 L474,1041.7 L555,1024.3 L637,1041.7 L718,1048.6 L800,1041.7 V1170 H147Z"/>
<path d="M245,1060 L262,1050 L278,1080 L275,1110 L255,1115 L245,1090 Z" fill="#73B973"/>
<path d="M548,1040 L565,995 L580,1040 L610,1070 L620,1100 L590,1120 L560,1125 L548,1090 Z" fill="#73B973"/>
<path d="M320,1010 L340,1000 L350,1060 L330,1080 Z" fill="#8CC38C"/>
<path d="M440,1065 L455,1060 L460,1085 L445,1090 Z" fill="#73B973"/>
<path fill="#A5D2A5" d="M148,1135 L230,1142 L311,1146 L393,1150 L474,1150 L555,1150 L637,1150 L718,1150 L800,1150 V1170 H147Z"/>
<path d="M148,695.6 H775" stroke="#000" stroke-width="1.5"/>
<g transform="translate(148,645)"><rect x="0" y="-8" width="115" height="13" fill="url(#pz)"/></g>
<g transform="translate(148,695.6)"><rect x="0" y="-12" width="625" height="12" fill="url(#p200)"/></g>
<g transform="translate(148,754)"><rect x="0" y="-24" width="651" height="24" fill="url(#p300)"/></g>
<g transform="translate(148,812.3)"><rect x="0" y="-28" width="651" height="28" fill="url(#p400)"/></g>
<g transform="translate(148,870.6)"><rect x="0" y="-21" width="651" height="21" fill="url(#p500)"/></g>
<g transform="translate(148,929)"><rect x="0" y="-19" width="651" height="19" fill="url(#p600)"/></g>
<g transform="translate(148,987.3)"><rect x="0" y="-4" width="651" height="12" fill="url(#p700)"/></g>
<g transform="translate(148,1074.8)"><rect x="0" y="-8" width="651" height="13" fill="url(#pz)"/></g>
<g transform="translate(148,1104)"><rect x="0" y="-8" width="651" height="13" fill="url(#pz)"/></g>
<g transform="translate(148,1133.2)"><rect x="0" y="-8" width="651" height="13" fill="url(#pz)"/></g>
<g transform="translate(148,1162)"><rect x="0" y="-8" width="651" height="8" fill="url(#pz)"/></g>
</g>

<!-- ================= PANEL D : V ================= -->
<g clip-path="url(#cD)">
<rect x="912" y="637" width="651" height="526" fill="#D2E6D2"/>
<path d="M912,637 H1563 V735 L1400,732 L1200,728 L1000,730 L912,728 Z" fill="#E6F0E6"/>
<path d="M1078,637 L1150,637 L1155,660 L1120,672 L1085,665 Z" fill="#D2E6D2"/>
<path d="M912,696 L1000,690 L1100,698 L1210,704 L1210,716 L1100,714 L1000,712 L912,716 Z" fill="#fff"/>
<path d="M1225,637 L1300,637 L1305,670 L1270,690 L1230,680 Z" fill="#fff"/>
<path d="M1265,668 L1320,655 L1400,660 L1470,668 L1510,690 L1490,715 L1400,722 L1300,716 L1265,700 Z" fill="#fff"/>
<path d="M912,637 L1045,637 L1042,655 L1020,672 L980,678 L940,676 L912,672 Z" fill="#FFDCDC"/>
<ellipse cx="985" cy="655" rx="32" ry="12" fill="#FFBEBE"/>
<path d="M912,672 L940,676 L980,678 L1020,672 L1040,680 L1030,690 L960,690 L912,686 Z" fill="#fff"/>
<ellipse cx="1320" cy="686" rx="40" ry="10" fill="#FFDCDC"/>
<ellipse cx="1430" cy="692" rx="65" ry="15" fill="#FFDCDC"/>
<ellipse cx="1440" cy="694" rx="35" ry="8" fill="#FFBEBE"/>
<path d="M912,742 L1000,738 L1100,740 L1200,736 L1300,738 L1400,736 L1563,738 L1563,895 L1400,898 L1300,900 L1200,902 L1100,905 L1000,900 L912,898 Z" fill="#BEDCBE"/>
<path d="M1000,745 L1060,742 L1080,770 L1050,790 L1010,780 Z" fill="#D2E6D2"/>
<path d="M1290,745 L1400,742 L1563,745 L1563,835 L1480,832 L1400,825 L1330,815 L1300,790 Z" fill="#A5D2A5"/>
<path d="M1380,760 L1460,755 L1520,770 L1480,800 L1400,795 Z" fill="#8CC38C"/>
<path d="M912,840 L1000,836 L1100,840 L1200,842 L1260,850 L1230,878 L1100,885 L1000,882 L912,878 Z" fill="#A5D2A5"/>
<path d="M912,900 L1000,905 L1100,912 L1200,908 L1300,905 L1400,905 L1563,902 V1163 H912 Z" fill="#E6F0E6"/>
<path d="M989,930 L1000,925 L1010,1050 L995,1050 Z" fill="#D2E6D2"/>
<path d="M1160,930 L1190,925 L1200,990 L1170,980 Z" fill="#D2E6D2"/>
<path d="M1095,950 L1150,940 L1220,945 L1280,960 L1330,985 L1345,1000 L1320,1022 L1250,1030 L1160,1030 L1110,1015 L1090,985 Z" fill="#fff"/>
<path d="M1125,968 L1170,960 L1210,972 L1218,995 L1185,1012 L1140,1008 L1125,990 Z" fill="#FFDCDC"/>
<path d="M912,995 L945,1000 L985,1060 L960,1068 L912,1060 Z" fill="#fff"/>
<path d="M1320,1002 L1400,998 L1480,1008 L1540,1040 L1500,1062 L1420,1055 L1340,1040 Z" fill="#fff"/>
<path d="M1391,1031 L1427,1031 L1425,1066 L1395,1066 Z" fill="#fff"/>
<path d="M1000,1062 L1100,1058 L1220,1062 L1230,1078 L1120,1090 L1010,1085 Z" fill="#fff"/>
<path d="M1070,1085 L1120,1088 L1128,1163 L1075,1163 Z" fill="#fff"/>
<path d="M912,1095 L985,1100 L990,1163 L912,1163 Z" fill="#D2E6D2"/>
<path d="M1315,1085 L1395,1090 L1400,1163 L1310,1163 Z" fill="#D2E6D2"/>
<path d="M1000,1095 L1006,1088 L1010,1105 L1003,1110 Z" fill="#FFDCDC"/>
<path d="M912,695.6 H1545" stroke="#000" stroke-width="1.5"/>
<g transform="translate(912,645)"><rect x="0" y="-8" width="122" height="13" fill="url(#pz)"/></g>
<g transform="translate(912,695.6)"><rect x="0" y="-12" width="632" height="12" fill="url(#p200)"/></g>
<g transform="translate(912,754)"><rect x="0" y="-24" width="651" height="24" fill="url(#p300)"/></g>
<g transform="translate(912,812.3)"><rect x="0" y="-28" width="651" height="28" fill="url(#p400)"/></g>
<g transform="translate(912,870.6)"><rect x="0" y="-21" width="651" height="21" fill="url(#p500)"/></g>
<g transform="translate(912,929)"><rect x="0" y="-19" width="651" height="19" fill="url(#p600)"/></g>
<g transform="translate(912,987.3)"><rect x="0" y="-4" width="651" height="12" fill="url(#p700)"/></g>
<g transform="translate(912,1074.8)"><rect x="0" y="-8" width="651" height="13" fill="url(#pz)"/></g>
<g transform="translate(912,1104)"><rect x="0" y="-8" width="651" height="13" fill="url(#pz)"/></g>
<g transform="translate(912,1133.2)"><rect x="0" y="-8" width="651" height="13" fill="url(#pz)"/></g>
<g transform="translate(912,1162)"><rect x="0" y="-8" width="651" height="8" fill="url(#pz)"/></g>
</g>

<!-- ================= grid lines, frames, ticks ================= -->
<path fill="none" stroke="#000" stroke-width="1" d="M229.4,37V562M310.75,37V562M392.1,37V562M473.5,37V562M554.9,37V562M636.25,37V562M717.6,37V562
M993.4,37V562M1074.75,37V562M1156.1,37V562M1237.5,37V562M1318.9,37V562M1400.25,37V562M1481.6,37V562
M229.4,637.3V1162M310.75,637.3V1162M392.1,637.3V1162M473.5,637.3V1162M554.9,637.3V1162M636.25,637.3V1162M717.6,637.3V1162
M993.4,637.3V1162M1074.75,637.3V1162M1156.1,637.3V1162M1237.5,637.3V1162M1318.9,637.3V1162M1400.25,637.3V1162M1481.6,637.3V1162"/>
<g fill="none" stroke="#000" stroke-width="1.8">
<rect x="148" y="37" width="651" height="525"/>
<rect x="912" y="37" width="651" height="525"/>
<rect x="148" y="637.3" width="651" height="525"/>
<rect x="912" y="637.3" width="651" height="525"/>
</g>
<path fill="none" stroke="#000" stroke-width="1.5" d="M142,37H148M142,95.3H148M142,153.7H148M142,212H148M142,270.3H148M142,328.7H148M142,387H148M142,445.3H148M142,503.7H148M142,562H148
M906,37H912M906,95.3H912M906,153.7H912M906,212H912M906,270.3H912M906,328.7H912M906,387H912M906,445.3H912M906,503.7H912M906,562H912
M142,637.3H148M142,695.6H148M142,754H148M142,812.3H148M142,870.6H148M142,929H148M142,987.3H148M142,1045.6H148M142,1104H148M142,1162.3H148
M906,637.3H912M906,695.6H912M906,754H912M906,812.3H912M906,870.6H912M906,929H912M906,987.3H912M906,1045.6H912M906,1104H912M906,1162.3H912"/>

<g class="ax" text-anchor="end" letter-spacing="0.5">
<text x="143" y="42">100</text><text x="143" y="100.3">200</text><text x="143" y="158.7">300</text><text x="143" y="217">400</text><text x="143" y="275.3">500</text><text x="143" y="333.7">600</text><text x="143" y="392">700</text><text x="143" y="450.3">800</text><text x="143" y="508.7">900</text><text x="143" y="567">1000</text>
<text x="143" y="642.3">100</text><text x="143" y="700.6">200</text><text x="143" y="759">300</text><text x="143" y="817.3">400</text><text x="143" y="875.6">500</text><text x="143" y="934">600</text><text x="143" y="992.3">700</text><text x="143" y="1050.6">800</text><text x="143" y="1109">900</text><text x="143" y="1167.3">1000</text>
<text x="904" y="42">%</text><text x="904" y="100.3">%</text><text x="904" y="158.7">%</text><text x="904" y="217">%</text><text x="904" y="275.3">%</text><text x="904" y="333.7">%</text><text x="904" y="392">%</text><text x="904" y="450.3">%</text><text x="904" y="508.7">%</text><text x="904" y="567">%</text>
<text x="904" y="642.3">%</text><text x="904" y="700.6">%</text><text x="904" y="759">%</text><text x="904" y="817.3">%</text><text x="904" y="875.6">%</text><text x="904" y="934">%</text><text x="904" y="992.3">%</text><text x="904" y="1050.6">%</text><text x="904" y="1109">%</text><text x="904" y="1167.3">%</text>
</g>

<g class="tx">
<text x="148" y="581.7">00Z</text><text x="229.4" y="581.7">06Z</text><text x="310.75" y="581.7">12Z</text><text x="392.1" y="581.7">18Z</text><text x="473.5" y="581.7">00Z</text><text x="554.9" y="581.7">06Z</text><text x="636.25" y="581.7">12Z</text><text x="717.6" y="581.7">18Z</text><text x="799" y="581.7">00Z</text>
<text x="148" y="598.3">15MAR</text><text x="473.5" y="598.3">16MAR</text><text x="799" y="598.3">17MAR</text><text x="148" y="613.3">2026</text>
<text x="912" y="581.7">00Z</text><text x="993.4" y="581.7">06Z</text><text x="1074.75" y="581.7">12Z</text><text x="1156.1" y="581.7">18Z</text><text x="1237.5" y="581.7">00Z</text><text x="1318.9" y="581.7">06Z</text><text x="1400.25" y="581.7">12Z</text><text x="1481.6" y="581.7">18Z</text><text x="1563" y="581.7">00Z</text>
<text x="912" y="598.3">15MAR</text><text x="1237.5" y="598.3">16MAR</text><text x="1563" y="598.3">17MAR</text><text x="912" y="613.3">2026</text>
<text x="148" y="1182">00Z</text><text x="229.4" y="1182">06Z</text><text x="310.75" y="1182">12Z</text><text x="392.1" y="1182">18Z</text><text x="473.5" y="1182">00Z</text><text x="554.9" y="1182">06Z</text><text x="636.25" y="1182">12Z</text><text x="717.6" y="1182">18Z</text><text x="799" y="1182">00Z</text>
<text x="148" y="1198.6">15MAR</text><text x="473.5" y="1198.6">16MAR</text><text x="799" y="1198.6">17MAR</text><text x="148" y="1213.6">2026</text>
<text x="912" y="1182">00Z</text><text x="993.4" y="1182">06Z</text><text x="1074.75" y="1182">12Z</text><text x="1156.1" y="1182">18Z</text><text x="1237.5" y="1182">00Z</text><text x="1318.9" y="1182">06Z</text><text x="1400.25" y="1182">12Z</text><text x="1481.6" y="1182">18Z</text><text x="1563" y="1182">00Z</text>
<text x="912" y="1198.6">15MAR</text><text x="1237.5" y="1198.6">16MAR</text><text x="1563" y="1198.6">17MAR</text><text x="912" y="1213.6">2026</text>
</g>

<g class="tt" fill="#111" text-anchor="middle">
<text x="473.5" y="25" textLength="84" lengthAdjust="spacingAndGlyphs">RH (%)</text>
<text x="1237.5" y="25" textLength="492" lengthAdjust="spacing">ThetaE (K) and Vertical Velocity (cm/s)</text>
<text x="473.5" y="625" textLength="345" lengthAdjust="spacing">U wind component (m s-1)</text>
<text x="1237.5" y="625" textLength="345" lengthAdjust="spacing">V wind component (m s-1)</text>
</g>
<text transform="translate(34,981) rotate(-90)" font-size="40" fill="#333" textLength="383" lengthAdjust="spacing">Upper−Air Time</text>
<text transform="translate(34,583) rotate(-90)" font-size="40" fill="#333" textLength="329" lengthAdjust="spacing">Sections Plots</text>

<g>
<rect x="66" y="112" width="15" height="19" fill="#78E178"/>
<rect x="66" y="130.77" width="15" height="19" fill="#3CB43C"/>
<rect x="66" y="149.54" width="15" height="19" fill="#008200"/>
<rect x="66" y="168.31" width="15" height="19" fill="#002A8C"/>
<rect x="66" y="187.08" width="15" height="19" fill="#0050B4"/>
<rect x="66" y="205.85" width="15" height="19" fill="#0A6EE6"/>
<rect x="66" y="224.62" width="15" height="19" fill="#1496FF"/>
<rect x="66" y="243.39" width="15" height="19" fill="#32BEFF"/>
<rect x="66" y="262.16" width="15" height="19" fill="#96D2FF"/>
<rect x="66" y="280.93" width="15" height="19" fill="#D7E1FF"/>
<rect x="66" y="299.7" width="15" height="19" fill="#FFE1E1"/>
<rect x="66" y="318.47" width="15" height="19" fill="#F5C8B4"/>
<rect x="66" y="337.24" width="15" height="19" fill="#F0B496"/>
<rect x="66" y="356.01" width="15" height="19" fill="#E99682"/>
<rect x="66" y="374.78" width="15" height="19" fill="#E17868"/>
<rect x="66" y="393.55" width="15" height="19" fill="#FF5A1E"/>
<rect x="66" y="412.32" width="15" height="19" fill="#FFA01E"/>
<rect x="66" y="431.09" width="15" height="19" fill="#FFD228"/>
<rect x="66" y="449.86" width="15" height="19" fill="#F5F064"/>
<rect x="66" y="468.63" width="15" height="19" fill="#FFFF46"/>
<rect x="66" y="487.4" width="15" height="19" fill="#FFFFA0"/>
<rect x="66" y="506.17" width="15" height="18.8" fill="#F5F5F5"/>
</g>
<g class="cb">
<text x="86" y="135.8">100</text><text x="86" y="154.5">95</text><text x="86" y="173.3">90</text><text x="86" y="192.1">85</text><text x="86" y="210.9">80</text><text x="86" y="229.6">75</text><text x="86" y="248.4">70</text><text x="86" y="267.2">65</text><text x="86" y="285.9">60</text><text x="86" y="304.7">55</text><text x="86" y="323.5">50</text><text x="86" y="342.2">45</text><text x="86" y="361">40</text><text x="86" y="379.8">35</text><text x="86" y="398.6">30</text><text x="86" y="417.3">25</text><text x="86" y="436.1">20</text><text x="86" y="454.9">15</text><text x="86" y="473.6">10</text><text x="86" y="492.4">5</text><text x="86" y="511.2">0</text>
</g>

<g>
<rect x="830" y="112" width="15" height="23.2" fill="#A32222"/>
<rect x="830" y="134.94" width="15" height="23.2" fill="#B42828"/>
<rect x="830" y="157.88" width="15" height="23.2" fill="#C83C3C"/>
<rect x="830" y="180.82" width="15" height="23.2" fill="#FFA000"/>
<rect x="830" y="203.76" width="15" height="23.2" fill="#FFBE3C"/>
<rect x="830" y="226.7" width="15" height="23.2" fill="#FFE178"/>
<rect x="830" y="249.64" width="15" height="23.2" fill="#FFF5AA"/>
<rect x="830" y="272.58" width="15" height="23.2" fill="#78F078"/>
<rect x="830" y="295.52" width="15" height="23.2" fill="#3CD23C"/>
<rect x="830" y="318.46" width="15" height="23.2" fill="#10A010"/>
<rect x="830" y="341.4" width="15" height="23.2" fill="#1464D2"/>
<rect x="830" y="364.34" width="15" height="23.2" fill="#1E3CFF"/>
<rect x="830" y="387.28" width="15" height="23.2" fill="#2800A0"/>
<rect x="830" y="410.22" width="15" height="23.2" fill="#2D1EA0"/>
<rect x="830" y="433.16" width="15" height="23.2" fill="#4B3CC8"/>
<rect x="830" y="456.1" width="15" height="23.2" fill="#6E64DC"/>
<rect x="830" y="479.04" width="15" height="23.2" fill="#8278E6"/>
<rect x="830" y="501.98" width="15" height="22.9" fill="#F5F5F5"/>
</g>
<g class="cb">
<text x="850" y="139.9">100</text><text x="850" y="162.9">70</text><text x="850" y="185.8">55</text><text x="850" y="208.8">40</text><text x="850" y="231.7">30</text><text x="850" y="254.6">22</text><text x="850" y="277.6">15</text><text x="850" y="300.5">9</text><text x="850" y="323.5">6</text><text x="850" y="346.4">2</text><text x="850" y="369.3">0</text><text x="850" y="392.3">−2</text><text x="850" y="415.2">−5</text><text x="850" y="438.2">−10</text><text x="850" y="461.1">−18</text><text x="850" y="484">−30</text><text x="850" y="507">−45</text>
</g>

<g>
<rect x="66" y="712.7" width="15" height="21.9" fill="#FF0000"/>
<rect x="66" y="734.35" width="15" height="21.9" fill="#FF2020"/>
<rect x="66" y="756" width="15" height="21.9" fill="#FF3C3C"/>
<rect x="66" y="777.65" width="15" height="21.9" fill="#FF5555"/>
<rect x="66" y="799.3" width="15" height="21.9" fill="#FF6A6A"/>
<rect x="66" y="820.95" width="15" height="21.9" fill="#FF8282"/>
<rect x="66" y="842.6" width="15" height="21.9" fill="#FFA0A0"/>
<rect x="66" y="864.25" width="15" height="21.9" fill="#FFBEBE"/>
<rect x="66" y="885.9" width="15" height="21.9" fill="#FFDCDC"/>
<rect x="66" y="929.2" width="15" height="21.9" fill="#E6F0E6"/>
<rect x="66" y="950.85" width="15" height="21.9" fill="#D2E6D2"/>
<rect x="66" y="972.5" width="15" height="21.9" fill="#BEDCBE"/>
<rect x="66" y="994.15" width="15" height="21.9" fill="#A5D2A5"/>
<rect x="66" y="1015.8" width="15" height="21.9" fill="#8CC38C"/>
<rect x="66" y="1037.45" width="15" height="21.9" fill="#73B973"/>
<rect x="66" y="1059.1" width="15" height="21.9" fill="#5AAA5A"/>
<rect x="66" y="1080.75" width="15" height="21.9" fill="#3C9B3C"/>
<rect x="66" y="1102.4" width="15" height="21.7" fill="#1E8C1E"/>
</g>
<g class="cb">
<text x="86" y="739.4">40</text><text x="86" y="761">30</text><text x="86" y="782.7">22</text><text x="86" y="804.3">16</text><text x="86" y="826">12</text><text x="86" y="847.6">9</text><text x="86" y="869.3">6</text><text x="86" y="890.9">3</text><text x="86" y="912.6">1</text><text x="86" y="934.2">−1</text><text x="86" y="955.9">−3</text><text x="86" y="977.5">−6</text><text x="86" y="999.2">−9</text><text x="86" y="1020.8">−12</text><text x="86" y="1042.5">−16</text><text x="86" y="1064.1">−22</text><text x="86" y="1085.8">−30</text><text x="86" y="1107.4">−40</text>
</g>

<g>
<rect x="830" y="712.7" width="15" height="21.9" fill="#FF0000"/>
<rect x="830" y="734.35" width="15" height="21.9" fill="#FF2020"/>
<rect x="830" y="756" width="15" height="21.9" fill="#FF3C3C"/>
<rect x="830" y="777.65" width="15" height="21.9" fill="#FF5555"/>
<rect x="830" y="799.3" width="15" height="21.9" fill="#FF6A6A"/>
<rect x="830" y="820.95" width="15" height="21.9" fill="#FF8282"/>
<rect x="830" y="842.6" width="15" height="21.9" fill="#FFA0A0"/>
<rect x="830" y="864.25" width="15" height="21.9" fill="#FFBEBE"/>
<rect x="830" y="885.9" width="15" height="21.9" fill="#FFDCDC"/>
<rect x="830" y="929.2" width="15" height="21.9" fill="#E6F0E6"/>
<rect x="830" y="950.85" width="15" height="21.9" fill="#D2E6D2"/>
<rect x="830" y="972.5" width="15" height="21.9" fill="#BEDCBE"/>
<rect x="830" y="994.15" width="15" height="21.9" fill="#A5D2A5"/>
<rect x="830" y="1015.8" width="15" height="21.9" fill="#8CC38C"/>
<rect x="830" y="1037.45" width="15" height="21.9" fill="#73B973"/>
<rect x="830" y="1059.1" width="15" height="21.9" fill="#5AAA5A"/>
<rect x="830" y="1080.75" width="15" height="21.9" fill="#3C9B3C"/>
<rect x="830" y="1102.4" width="15" height="21.7" fill="#1E8C1E"/>
</g>
<g class="cb">
<text x="850" y="739.4">40</text><text x="850" y="761">30</text><text x="850" y="782.7">22</text><text x="850" y="804.3">16</text><text x="850" y="826">12</text><text x="850" y="847.6">9</text><text x="850" y="869.3">6</text><text x="850" y="890.9">3</text><text x="850" y="912.6">1</text><text x="850" y="934.2">−1</text><text x="850" y="955.9">−3</text><text x="850" y="977.5">−6</text><text x="850" y="999.2">−9</text><text x="850" y="1020.8">−12</text><text x="850" y="1042.5">−16</text><text x="850" y="1064.1">−22</text><text x="850" y="1085.8">−30</text><text x="850" y="1107.4">−40</text>
</g>
</svg>
</body></html>
